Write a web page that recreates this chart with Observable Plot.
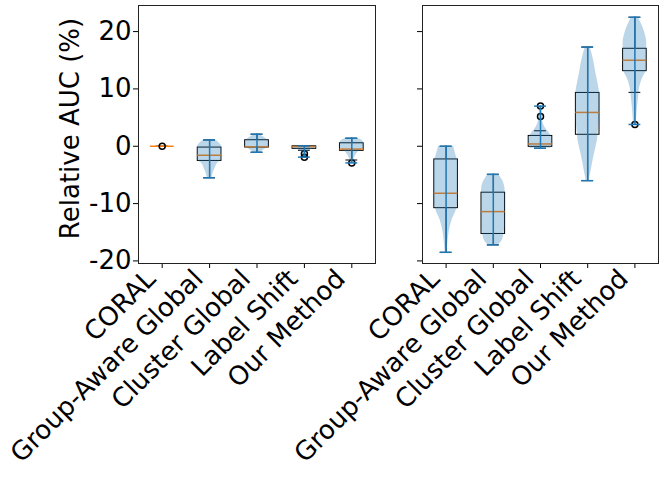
<!DOCTYPE html>
<html><head><meta charset="utf-8">
<script src="https://cdn.jsdelivr.net/npm/d3@7"></script>
<script src="https://cdn.jsdelivr.net/npm/@observablehq/plot@0.6"></script>
<style>
body{margin:0;background:#fff;}
#chart{position:relative;width:664px;height:479px;font-family:"DejaVu Sans";}
#chart svg{position:absolute;top:0;overflow:visible;}
</style></head><body><div id="chart"></div>
<script>
const categories = ["CORAL", "Group-Aware Global", "Cluster Global", "Label Shift", "Our Method"];
const yTicks = [-20, -10, 0, 10, 20];
const yLabel = "Relative AUC (%)";

// box stats: [whiskerLow, q1, median, q3, whiskerHigh]
const leftBoxes = [
  [0, 0, 0, 0, 0],
  [-5.5, -2.56, -1.57, -0.23, 1.1],
  [-1.05, -0.23, -0.1, 1.05, 2.1],
  [-0.7, -0.45, -0.05, 0.0, 0.0],
  [-2.4, -0.8, -0.5, 0.52, 1.4]
];
const leftFliers = [[0], [], [], [-1.3, -1.9], [-2.9]];
// violin profiles: [value, relative density width]
const leftViolins = [
  [],
  [[1.1,0.5],[0.5,0.85],[0,1],[-1,1],[-2.4,0.97],[-3.0,0.66],[-3.9,0.46],[-4.8,0.28],[-5.5,0.2]],
  [[2.1,0.22],[1.6,0.56],[1.05,0.9],[0.5,1],[-0.1,1],[-0.5,0.7],[-1.05,0.3]],
  [[0.05,0.75],[0,1],[-0.3,0.9],[-0.6,0.55],[-1.0,0.25],[-1.4,0.18],[-1.9,0.1]],
  [[1.4,0.4],[1.05,0.85],[0.5,1],[-0.3,1],[-0.8,0.66],[-1.4,0.38],[-2.15,0.2],[-2.9,0.12]]
];

const rightBoxes = [
  [-18.5, -10.8, -8.2, -2.3, 0],
  [-17.2, -15.3, -11.4, -8.1, -4.9],
  [-0.35, -0.1, 0.4, 1.8, 2.7],
  [-6.0, 2.0, 5.9, 9.3, 17.3],
  [9.4, 13.1, 15.0, 17.0, 22.5]
];
const rightFliers = [[], [], [5.2, 7.0], [], [3.8]];
const rightViolins = [
  [[0,0.63],[-1.3,0.8],[-3,1],[-6,1],[-9.5,1],[-11.2,0.85],[-12.9,0.5],[-14.7,0.28],[-16.4,0.17],[-18.5,0.08]],
  [[-4.9,0.42],[-5.9,0.76],[-7.7,1],[-10,1],[-14,1],[-15.2,0.9],[-16.4,0.76],[-17.2,0.45]],
  [[7.0,0.08],[5.1,0.12],[3.4,0.35],[2.2,0.78],[1.3,1],[0.5,1],[-0.35,0.85]],
  [[17.3,0.2],[15,0.5],[12.7,0.7],[11,0.87],[9.2,1],[5,1],[3.3,0.93],[1,0.82],[-1.3,0.57],[-3.6,0.35],[-6,0.12]],
  [[22.5,0.28],[19.7,0.85],[18,1],[15,1],[13.2,0.97],[12.1,0.7],[10.4,0.42],[8,0.28],[5.7,0.17],[3.8,0.12]]
];

const BLUE = "#1f77b4", ORANGE = "#ff7f0e";
const FS = 26;
const fmt = d => d < 0 ? "-" + (-d) : String(d);

function panel({boxes, fliers, violins, width, marginLeft, marginRight, showLabels}) {
  const pos = categories.map((_, i) => i + 1);
  const boxRows = boxes.map((b, i) => ({x: i + 1, lo: b[0], q1: b[1], med: b[2], q3: b[3], hi: b[4]}));
  const flierRows = fliers.flatMap((f, i) => f.map(v => ({x: i + 1, v})));
  const violinRows = violins.flatMap((p, i) => p.map(([v, w]) => ({x: i + 1, v, w})).sort((a, b) => a.v - b.v));
  const extrema = violins.map((p, i) => p.length ? {x: i + 1, min: d3.min(p, d => d[0]), max: d3.max(p, d => d[0])} : null).filter(Boolean);
  return Plot.plot({
    width, height: 479, marginLeft, marginRight, marginTop: 5, marginBottom: 216,
    style: {fontFamily: "DejaVu Sans", fontSize: FS + "px", overflow: "visible", background: "transparent", color: "black"},
    x: {domain: [0.5, 5.5]},
    y: {domain: [-20.45, 24.55]},
    marks: [
      Plot.axisY({ticks: yTicks, tickSize: 5, tickPadding: 2, tickFormat: showLabels ? fmt : () => "", label: null, fontSize: FS}),
      showLabels ? Plot.text([yLabel], {frameAnchor: "left", rotate: -90, dx: -68, dy: -6, fontSize: FS, textAnchor: "middle", fill: "black"}) : null,
      Plot.axisX({ticks: pos, tickSize: 5, tickFormat: () => "", label: null}),
      Plot.axisX({ticks: pos, tickSize: 0, tickPadding: 8, tickFormat: i => categories[i - 1], tickRotate: -45, label: null, fontSize: FS, dx: -11, dy: 3}),
      Plot.rect(boxRows, {x1: d => d.x - 0.25, x2: d => d.x + 0.25, y1: "q1", y2: "q3", stroke: "black", fill: "none"}),
      Plot.ruleX(boxRows, {x: "x", y1: "q3", y2: "hi", stroke: "black"}),
      Plot.ruleX(boxRows, {x: "x", y1: "lo", y2: "q1", stroke: "black"}),
      Plot.ruleY(boxRows, {y: "lo", x1: d => d.x - 0.125, x2: d => d.x + 0.125, stroke: "black"}),
      Plot.ruleY(boxRows, {y: "hi", x1: d => d.x - 0.125, x2: d => d.x + 0.125, stroke: "black"}),
      Plot.ruleY(boxRows, {y: "med", x1: d => d.x - 0.25, x2: d => d.x + 0.25, stroke: ORANGE, strokeWidth: 1.5}),
      Plot.dot(flierRows, {x: "x", y: "v", r: 3, stroke: "black", fill: "none"}),
      Plot.areaX(violinRows, {y: "v", x1: d => d.x - 0.25 * d.w, x2: d => d.x + 0.25 * d.w, z: "x", fill: BLUE, fillOpacity: 0.3, curve: "monotone-y"}),
      Plot.ruleX(extrema, {x: "x", y1: "min", y2: "max", stroke: BLUE, strokeWidth: 1.5}),
      Plot.ruleY(extrema, {y: "min", x1: d => d.x - 0.125, x2: d => d.x + 0.125, stroke: BLUE, strokeWidth: 1.5}),
      Plot.ruleY(extrema, {y: "max", x1: d => d.x - 0.125, x2: d => d.x + 0.125, stroke: BLUE, strokeWidth: 1.5}),
      Plot.frame({stroke: "#222"})
    ]
  });
}

const chart = document.getElementById("chart");
const left = panel({boxes: leftBoxes, fliers: leftFliers, violins: leftViolins, width: 376, marginLeft: 138, marginRight: 1, showLabels: true});
left.style.left = "0px";
const right = panel({boxes: rightBoxes, fliers: rightFliers, violins: rightViolins, width: 288, marginLeft: 46, marginRight: 6, showLabels: false});
right.style.left = "376px";
chart.appendChild(left);
chart.appendChild(right);
</script></body></html>
